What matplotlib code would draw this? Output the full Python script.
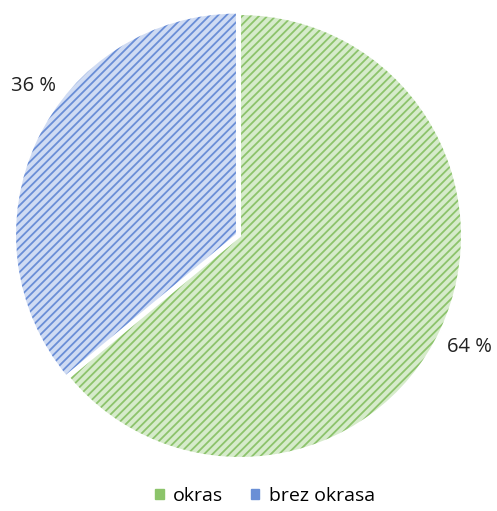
import numpy as np
import matplotlib.pyplot as plt
from matplotlib.patches import Patch

labels = ["okras", "brez okrasa"]
shares = [64, 36]
pct_text = ["64 %", "36 %"]
fill_colors = ["#d6ebcb", "#cfdbf3"]
stripe_colors = ["#8cc36b", "#6a8ed6"]
legend_colors = ["#8cc46a", "#6a8fd6"]

plt.rcParams["font.family"] = ["Open Sans", "DejaVu Sans"]
plt.rcParams["hatch.linewidth"] = 1.3

fig = plt.figure(figsize=(4.97, 5.11), dpi=100)
ax = fig.add_axes([18 / 497, 53 / 511, 444 / 497, 444 / 511])

explode = [0, 0.015]
wedges, _ = ax.pie(shares, startangle=90, counterclock=False, explode=explode,
                   colors=fill_colors, radius=1.0,
                   wedgeprops=dict(linewidth=0))
for w, sc in zip(wedges, stripe_colors):
    w.set_hatch("////")
    w.set_edgecolor(sc)
    w.set_linewidth(0)
    w.set_clip_on(False)

# white borders on top
outline, _ = ax.pie(shares, startangle=90, counterclock=False, explode=explode,
                    radius=1.0,
                    wedgeprops=dict(fill=False, edgecolor="white", linewidth=1.5))
for w in outline:
    w.set_clip_on(False)

ax.set_xlim(-1, 1)
ax.set_ylim(-1, 1)
ax.set_aspect("equal")
ax.axis("off")

# percentage labels outside the slices
label_angles = [-25.8, 144]
for txt, a in zip(pct_text, label_angles):
    r = 1.15
    ax.text(r * np.cos(np.radians(a)), r * np.sin(np.radians(a)), txt,
            ha="center", va="center", fontsize=14.5, color="#222222")

handles = [Patch(facecolor=c, edgecolor=c) for c in legend_colors]
fig.legend(handles, labels, loc="center", bbox_to_anchor=(265 / 497, 1 - 496 / 511),
           ncol=2, frameon=False, fontsize=14, handlelength=0.45, handleheight=0.45,
           handletextpad=0.5, columnspacing=1.4)

fig.savefig("out.png", dpi=100)
